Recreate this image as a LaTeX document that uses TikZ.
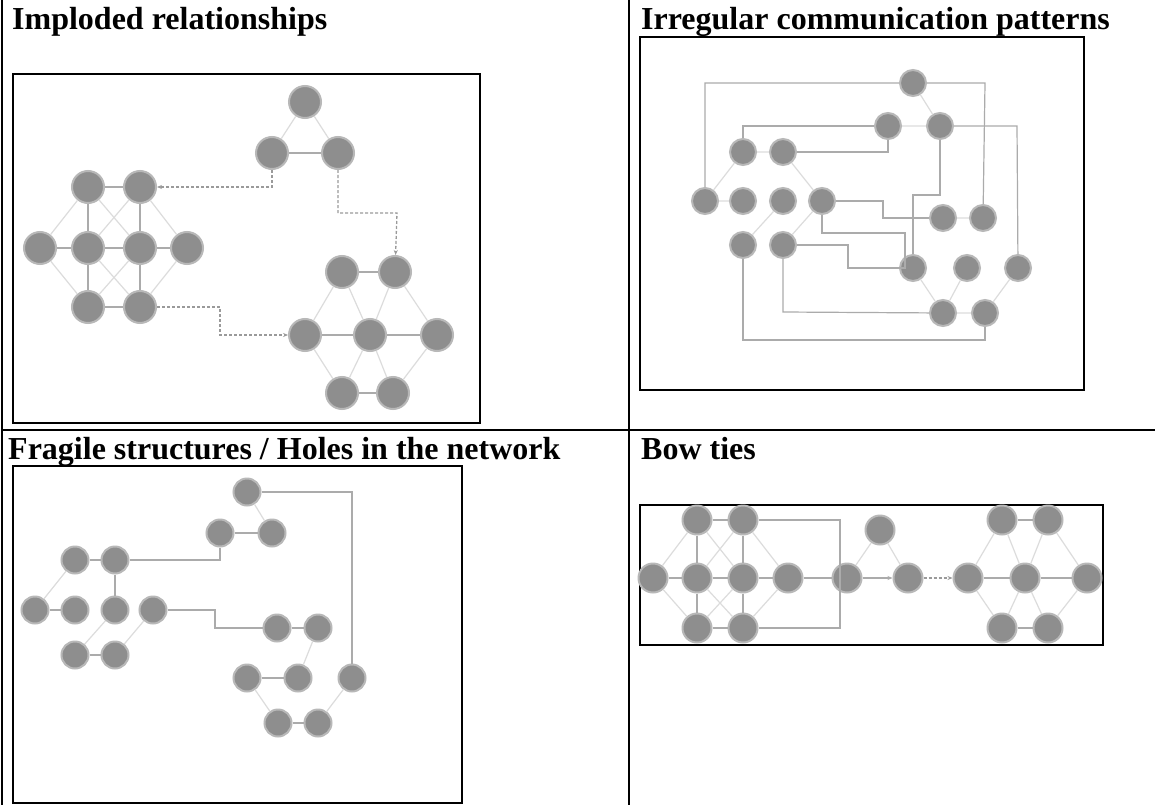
\documentclass[tikz,border=0pt]{standalone}
\usepackage{fontspec}
\setmainfont{Liberation Serif}
\usetikzlibrary{arrows.meta}
\begin{document}
\begin{tikzpicture}[x=1pt,y=-1pt,
  frame/.style={draw=black,line width=2pt},
  title/.style={anchor=base west,inner sep=0,font=\fontsize{32}{34}\selectfont\bfseries},
  nd/.style={circle,fill=ndgray,draw=ndhalo,line width=2pt,inner sep=0},
  ndA/.style={nd,minimum size=32pt},
  ndB/.style={nd,minimum size=26pt},
  ndC/.style={nd,minimum size=27pt},
  ndD/.style={nd,minimum size=29pt},
  lt/.style={draw=ltgray,line width=1.2pt},
  dk/.style={draw=dkgray,line width=1.2pt},
  dd/.style={draw=ddgray,line width=1.3pt,dash pattern=on 3pt off 2pt},
  tip/.style={-{Stealth[length=5pt,width=4pt]}},
]
\definecolor{ndgray}{HTML}{8E8E8E}
\definecolor{ndhalo}{HTML}{B8B8B8}
\definecolor{ltgray}{HTML}{DCDCDC}
\definecolor{dkgray}{HTML}{ABABAB}
\definecolor{ddgray}{HTML}{9A9A9A}
\useasboundingbox (0,0) rectangle (1155,805);
\fill[white] (0,0) rectangle (1155,805);
% table rules
\draw[line width=1.6pt] (2,0) -- (2,805);
\draw[line width=1.6pt] (629,0) -- (629,805);
\draw[line width=1.6pt] (2,430) -- (1155,430);
% titles
\node[title] (t1) at (12,30) {Imploded relationships};
\node[title] (t2) at (641,30) {Irregular communication patterns};
\node[title] (t3) at (8,459) {Fragile structures / Holes in the network};
\node[title] (t4) at (641,459) {Bow ties};
% inner boxes
\draw[frame] (13,74) rectangle (480,423);
\draw[frame] (640,37) rectangle (1084,390);
\draw[frame] (13,466) rectangle (462,803);
\draw[frame] (640,505) rectangle (1103,645);

%%%%% Panel 1: imploded relationships
\node[ndA] (a1) at (305,102) {};
\node[ndA] (a2) at (272,153) {};
\node[ndA] (a3) at (338,153) {};
\node[ndA] (a4) at (88,187) {};
\node[ndA] (a5) at (140,187) {};
\node[ndA] (a6) at (40,248) {};
\node[ndA] (a7) at (88,248) {};
\node[ndA] (a8) at (140,248) {};
\node[ndA] (a9) at (187,248) {};
\node[ndA] (a10) at (88,307) {};
\node[ndA] (a11) at (140,307) {};
\node[ndA] (a12) at (342,272) {};
\node[ndA] (a13) at (395,272) {};
\node[ndA] (a14) at (305,335) {};
\node[ndA] (a15) at (370,335) {};
\node[ndA] (a16) at (437,335) {};
\node[ndA] (a17) at (342,393) {};
\node[ndA] (a18) at (393,393) {};
\path[lt] (a1) -- (a2) (a1) -- (a3);
\path[dk] (a2) -- (a3);
\path[lt] (a6) -- (a4) (a6) -- (a10) (a9) -- (a5) (a9) -- (a11)
  (a4) -- (a8) (a5) -- (a7) (a7) -- (a11) (a8) -- (a10);
\path[dk] (a4) -- (a5) (a6) -- (a7) (a7) -- (a8) (a8) -- (a9) (a10) -- (a11)
  (a4) -- (a7) (a7) -- (a10) (a5) -- (a8) (a8) -- (a11);
\path[lt] (a14) -- (a12) (a14) -- (a17) (a16) -- (a13) (a16) -- (a18)
  (a12) -- (a15) (a13) -- (a15) (a15) -- (a17) (a15) -- (a18);
\path[dk] (a12) -- (a13) (a14) -- (a15) (a15) -- (a16) (a17) -- (a18);
\coordinate (c1) at (272,187);
\coordinate (c2) at (338,213);
\coordinate (c3) at (397,213);
\coordinate (c4) at (220,307);
\coordinate (c5) at (220,335);
\path[dd,tip] (a2) -- (c1) -- (a5);
\path[dd,tip] (a3) -- (c2) -- (c3) -- (a13);
\path[dd,tip] (a11) -- (c4) -- (c5) -- (a14);

%%%%% Panel 2: irregular communication patterns
\node[ndB] (b1) at (913,83) {};
\node[ndB] (b2) at (888,126) {};
\node[ndB] (b3) at (940,126) {};
\node[ndB] (b4) at (743,152) {};
\node[ndB] (b5) at (783,152) {};
\node[ndB] (b6) at (705,201) {};
\node[ndB] (b7) at (743,201) {};
\node[ndB] (b8) at (783,201) {};
\node[ndB] (b9) at (822,201) {};
\node[ndB] (b10) at (743,245) {};
\node[ndB] (b11) at (783,245) {};
\node[ndB] (b12) at (943,218) {};
\node[ndB] (b13) at (983,218) {};
\node[ndB] (b14) at (913,268) {};
\node[ndB] (b15) at (967,268) {};
\node[ndB] (b16) at (1018,268) {};
\node[ndB] (b17) at (943,313) {};
\node[ndB] (b18) at (985,313) {};
\path[lt] (b1) -- (b3) (b2) -- (b3) (b4) -- (b5) (b4) -- (b6) (b5) -- (b9)
  (b6) -- (b7) (b8) -- (b10) (b9) -- (b11) (b12) -- (b13)
  (b14) -- (b17) (b15) -- (b17) (b16) -- (b18) (b17) -- (b18);
\coordinate (p1) at (705,83);
\coordinate (p2) at (985,83);
\path[dk] (b6) -- (p1) -- (b1) -- (p2) -- (b13);
\coordinate (p3) at (743,126);
\path[dk] (b4) -- (p3) -- (b2);
\coordinate (p4) at (888,152);
\path[dk] (b5) -- (p4) -- (b2);
\coordinate (p5) at (1017,126);
\path[dk] (b3) -- (p5) -- (b16);
\coordinate (p6) at (940,195);
\coordinate (p7) at (913,195);
\path[dk] (b3) -- (p6) -- (p7) -- (b14);
\coordinate (p8) at (883,201);
\coordinate (p9) at (883,218);
\path[dk] (b9) -- (p8) -- (p9) -- (b12);
\coordinate (p10) at (822,233);
\coordinate (p11) at (905,233);
\coordinate (p12) at (905,268);
\path[dk] (b9) -- (p10) -- (p11) -- (p12) -- (b14);
\coordinate (p13) at (848,245);
\coordinate (p14) at (848,268);
\path[dk] (b11) -- (p13) -- (p14) -- (b14);
\coordinate (p15) at (743,340);
\coordinate (p16) at (985,340);
\path[dk] (b10) -- (p15) -- (p16) -- (b18);
\coordinate (p17) at (783,312);
\path[dk] (b11) -- (p17) -- (b17);

%%%%% Panel 3: fragile structures
\node[ndC] (c1n) at (247,492) {};
\node[ndC] (c2n) at (220,533) {};
\node[ndC] (c3n) at (272,533) {};
\node[ndC] (c4n) at (75,560) {};
\node[ndC] (c5n) at (115,560) {};
\node[ndC] (c6n) at (35,610) {};
\node[ndC] (c7n) at (75,610) {};
\node[ndC] (c8n) at (115,610) {};
\node[ndC] (c9n) at (153,610) {};
\node[ndC] (c10n) at (75,655) {};
\node[ndC] (c11n) at (115,655) {};
\node[ndC] (c12n) at (277,628) {};
\node[ndC] (c13n) at (318,628) {};
\node[ndC] (c14n) at (247,678) {};
\node[ndC] (c15n) at (298,678) {};
\node[ndC] (c16n) at (352,678) {};
\node[ndC] (c17n) at (278,723) {};
\node[ndC] (c18n) at (318,723) {};
\path[lt] (c1n) -- (c3n) (c4n) -- (c6n) (c8n) -- (c10n) (c9n) -- (c11n)
  (c13n) -- (c15n) (c14n) -- (c17n) (c18n) -- (c16n);
\path[dk] (c2n) -- (c3n) (c4n) -- (c5n) (c5n) -- (c8n) (c6n) -- (c7n)
  (c10n) -- (c11n) (c12n) -- (c13n) (c14n) -- (c15n) (c17n) -- (c18n);
\coordinate (q1) at (352,492);
\path[dk] (c1n) -- (q1) -- (c16n);
\coordinate (q2) at (220,560);
\path[dk] (c5n) -- (q2) -- (c2n);
\coordinate (q3) at (215,610);
\coordinate (q4) at (215,628);
\path[dk] (c9n) -- (q3) -- (q4) -- (c12n);

%%%%% Panel 4: bow ties
\node[ndD] (d1) at (697,520) {};
\node[ndD] (d2) at (743,520) {};
\node[ndD] (d3) at (653,578) {};
\node[ndD] (d4) at (697,578) {};
\node[ndD] (d5) at (743,578) {};
\node[ndD] (d6) at (788,578) {};
\node[ndD] (d7) at (697,628) {};
\node[ndD] (d8) at (743,628) {};
\node[ndD] (d9) at (847,578) {};
\node[ndD] (d10) at (880,530) {};
\node[ndD] (d11) at (908,578) {};
\node[ndD] (d12) at (968,578) {};
\node[ndD] (d13) at (1002,520) {};
\node[ndD] (d14) at (1048,520) {};
\node[ndD] (d15) at (1025,578) {};
\node[ndD] (d16) at (1087,578) {};
\node[ndD] (d17) at (1002,628) {};
\node[ndD] (d18) at (1048,628) {};
\path[lt] (d3) -- (d1) (d3) -- (d7) (d6) -- (d2) (d6) -- (d8)
  (d1) -- (d5) (d2) -- (d4) (d4) -- (d8) (d5) -- (d7)
  (d9) -- (d10) (d10) -- (d11)
  (d12) -- (d13) (d12) -- (d17) (d16) -- (d14) (d16) -- (d18)
  (d13) -- (d15) (d14) -- (d15) (d15) -- (d17) (d15) -- (d18);
\path[dk] (d1) -- (d2) (d3) -- (d4) (d4) -- (d5) (d5) -- (d6) (d7) -- (d8)
  (d1) -- (d4) (d4) -- (d7) (d2) -- (d5) (d5) -- (d8)
  (d6) -- (d9) (d12) -- (d15) (d15) -- (d16)
  (d13) -- (d14) (d17) -- (d18);
\path[dk,tip] (d9) -- (d11);
\path[dd,tip] (d11) -- (d12);
\coordinate (r1) at (840,520);
\coordinate (r2) at (840,628);
\path[dk] (d2) -- (r1) -- (r2) -- (d8);
\end{tikzpicture}
\end{document}
